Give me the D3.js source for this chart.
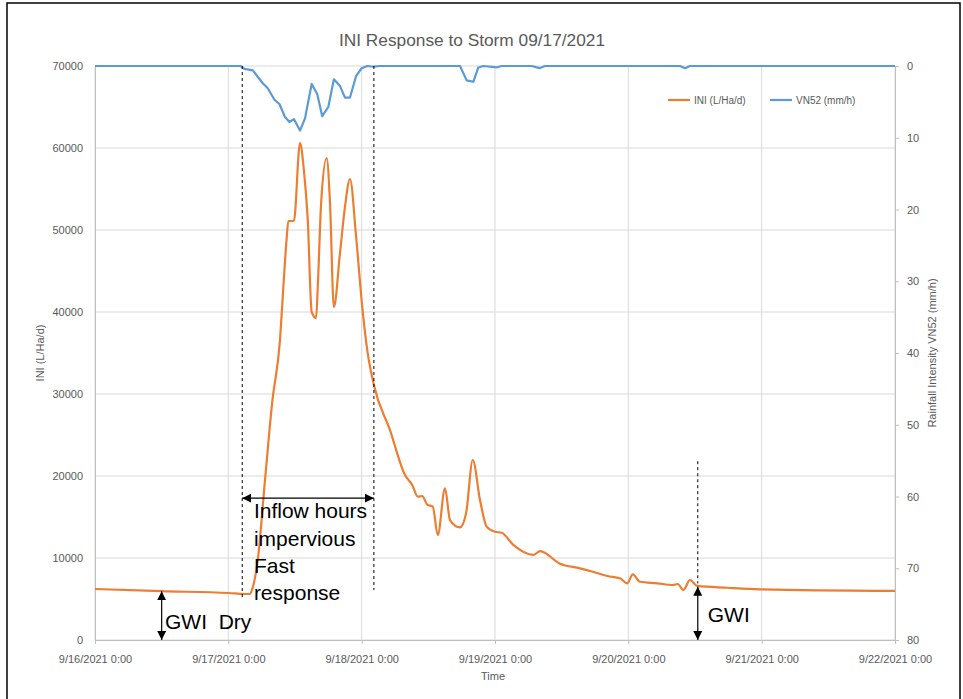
<!DOCTYPE html>
<html><head><meta charset="utf-8">
<script src="https://cdn.jsdelivr.net/npm/d3@7"></script>
<style>
html,body{margin:0;padding:0;background:#fff;}
svg{display:block;font-family:"Liberation Sans",Arial,sans-serif;}
</style></head>
<body><svg id="chart" width="963" height="699"></svg>
<script>
// ---------- data (hours after 9/16/2021 0:00) ----------
const iniHours = [0,12,24,27,27.9,28.3,29.3,30.6,31.9,33.3,33.9,34.5,34.8,35.8,36.9,37.6,38.3,39.0,39.8,40.1,40.7,41.7,42.3,43.0,44.1,45.0,45.9,47.0,48.1,49.0,50.2,53.1,55.8,57.1,58.1,58.9,59.8,60.8,61.7,63.0,63.9,65.7,66.8,68.0,69.3,70.5,72.0,73.2,75.3,78.9,80.1,83.7,87.3,89.6,92.2,94.5,95.8,96.8,98.1,101.2,104.0,104.9,105.9,107.1,108.4,113.8,119.7,144];
const iniValues = [6220,5950,5730,5610,5620,6200,9760,19500,29000,36590,43000,49000,51100,51100,60600,57300,51200,40000,39270,43080,53250,58780,53300,40600,47200,52840,56220,49180,40650,35370,31100,25600,20120,18900,17480,17560,16500,16260,12800,18500,14630,13740,15500,21950,17070,13820,13200,13080,11590,10370,10850,9300,8740,8330,7800,7520,6910,8010,7100,6910,6710,6830,6100,7320,6590,6370,6180,5980];
const rainHours = [0,26.2,26.9,28.4,30.2,31.1,32.3,33.2,34.2,35.0,35.8,36.9,37.8,39.0,40.0,40.9,42.0,43.0,44.1,45.0,45.9,47.0,48.0,49.0,50.1,51.3,65.7,66.9,68.1,69.0,69.9,72.3,73.2,78.6,80.0,81.0,105.3,106.2,107.1,144];
const rainValues = [0,0,0.4,0.6,2.4,3.1,4.7,5.3,7.1,7.8,7.4,9.0,7.3,2.5,3.9,7.0,5.7,1.85,2.8,4.4,4.4,1.4,0.3,0,0.1,0,0,2.0,2.2,0.2,0,0.2,0,0,0.3,0,0,0.3,0,0];
const xTickHours = [0,24,48,72,96,120,144];
const xTickLabels = ["9/16/2021 0:00","9/17/2021 0:00","9/18/2021 0:00","9/19/2021 0:00","9/20/2021 0:00","9/21/2021 0:00","9/22/2021 0:00"];
const leftTicks = [0,10000,20000,30000,40000,50000,60000,70000];
const rightTicks = [0,10,20,30,40,50,60,70,80];
const seriesNames = ["INI (L/Ha/d)","VN52 (mm/h)"];
const titleText = "INI Response to Storm 09/17/2021";

// ---------- layout ----------
const svg = d3.select("#chart");
const L = 95, R = 895, T = 66, B = 640;
const ORANGE = "#ED7D31", BLUE = "#5B9BD5", GRID = "#d9d9d9", TXT = "#595959";

const x = d3.scaleLinear().domain([0,144]).range([L,R]);
const y = d3.scaleLinear().domain([0,70000]).range([B,T]);
const y2 = d3.scaleLinear().domain([0,80]).range([T,B]);

// frame
svg.append("rect").attr("x",7).attr("y",3).attr("width",953).attr("height",710)
  .attr("fill","none").attr("stroke","#000").attr("stroke-width",1.5);

// title
svg.append("text").attr("x",472).attr("y",46).attr("text-anchor","middle")
  .attr("font-size",17.3).attr("fill",TXT).text(titleText);

// gridlines
svg.append("g").selectAll("line").data(leftTicks).join("line")
  .attr("x1",L).attr("x2",R).attr("y1",d=>y(d)).attr("y2",d=>y(d))
  .attr("stroke",GRID).attr("stroke-width",1);
svg.append("g").selectAll("line").data(xTickHours).join("line")
  .attr("x1",d=>x(d)).attr("x2",d=>x(d)).attr("y1",T).attr("y2",B)
  .attr("stroke",GRID).attr("stroke-width",1);

// axes
const leftAxis = d3.axisLeft(y).tickValues(leftTicks).tickSize(0).tickPadding(12).tickFormat(d3.format("d"));
const gL = svg.append("g").attr("transform",`translate(${L},0)`).call(leftAxis);
const rightAxis = d3.axisRight(y2).tickValues(rightTicks).tickSize(4).tickPadding(8);
const gR = svg.append("g").attr("transform",`translate(${R},0)`).call(rightAxis);
const bottomAxis = d3.axisBottom(x).tickValues(xTickHours).tickSize(4).tickPadding(11)
  .tickFormat((d,i)=>xTickLabels[i]);
const gB = svg.append("g").attr("transform",`translate(0,${B})`).call(bottomAxis);
[gL,gR,gB].forEach(g=>{
  g.selectAll("path.domain").attr("stroke","#bfbfbf");
  g.selectAll(".tick line").attr("stroke","#bfbfbf");
  g.selectAll(".tick text").attr("fill",TXT).attr("font-size",11)
   .attr("font-family","'Liberation Sans',Arial,sans-serif");
});

// axis titles
svg.append("text").attr("transform","translate(44,353) rotate(-90)").attr("text-anchor","middle")
  .attr("font-size",11).attr("fill",TXT).text("INI (L/Ha/d)");
svg.append("text").attr("transform","translate(936,353) rotate(-90)").attr("text-anchor","middle")
  .attr("font-size",11).attr("fill",TXT).text("Rainfall Intensity VN52 (mm/h)");
svg.append("text").attr("x",493).attr("y",680).attr("text-anchor","middle")
  .attr("font-size",11).attr("fill",TXT).text("Time");

// series
const iniData = iniHours.map((h,i)=>[h,iniValues[i]]);
const rainData = rainHours.map((h,i)=>[h,rainValues[i]]);
svg.append("path").datum(iniData)
  .attr("d",d3.line().x(d=>x(d[0])).y(d=>y(d[1])).curve(d3.curveMonotoneX))
  .attr("fill","none").attr("stroke",ORANGE).attr("stroke-width",2.2).attr("stroke-linejoin","round");
svg.append("path").datum(rainData)
  .attr("d",d3.line().x(d=>x(d[0])).y(d=>y2(d[1])))
  .attr("fill","none").attr("stroke",BLUE).attr("stroke-width",2.2).attr("stroke-linejoin","round");

// legend
const lg = svg.append("g");
[[668,ORANGE,seriesNames[0]],[770,BLUE,seriesNames[1]]].forEach(([lx,c,t])=>{
  lg.append("line").attr("x1",lx).attr("x2",lx+22).attr("y1",100).attr("y2",100)
    .attr("stroke",c).attr("stroke-width",2.2);
  lg.append("text").attr("x",lx+26).attr("y",104).attr("font-size",10).attr("fill",TXT).text(t);
});

// annotations
const defs = svg.append("defs");
defs.append("marker").attr("id","ah").attr("viewBox","0 0 10 10").attr("refX",10).attr("refY",5)
  .attr("markerWidth",9).attr("markerHeight",9).attr("markerUnits","userSpaceOnUse").attr("orient","auto-start-reverse")
  .append("path").attr("d","M0,0 L10,5 L0,10 z").attr("fill","#000");

const ann = svg.append("g");
function dashed(h,v1,v2){
  ann.append("line").attr("x1",x(h)).attr("x2",x(h)).attr("y1",y(v1)).attr("y2",y(v2))
    .attr("stroke","#000").attr("stroke-width",1).attr("stroke-dasharray","3,3");
}
dashed(26.5,70000,5200);
dashed(50.2,70000,6100);
dashed(108.5,21800,6900);

function arrow(x1,y1,x2,y2){
  ann.append("line").attr("x1",x1).attr("y1",y1).attr("x2",x2).attr("y2",y2)
    .attr("stroke","#000").attr("stroke-width",1.2)
    .attr("marker-start","url(#ah)").attr("marker-end","url(#ah)");
}
arrow(x(26.5),y(17300),x(50.2),y(17300));
arrow(x(12),y(5950),x(12),y(0));
arrow(x(108.5),y(6500),x(108.5),y(0));

const annFont = 21;
[["Inflow hours",518],["impervious",546],["Fast",573],["response",600]].forEach(([t,yy])=>{
  ann.append("text").attr("x",x(28.6)).attr("y",yy).attr("font-size",annFont).attr("fill","#000").text(t);
});
ann.append("text").attr("x",x(12.6)).attr("y",629).attr("font-size",annFont).attr("fill","#000")
  .attr("xml:space","preserve").text("GWI  Dry");
ann.append("text").attr("x",x(110.3)).attr("y",622).attr("font-size",annFont).attr("fill","#000").text("GWI");
</script></body></html>
